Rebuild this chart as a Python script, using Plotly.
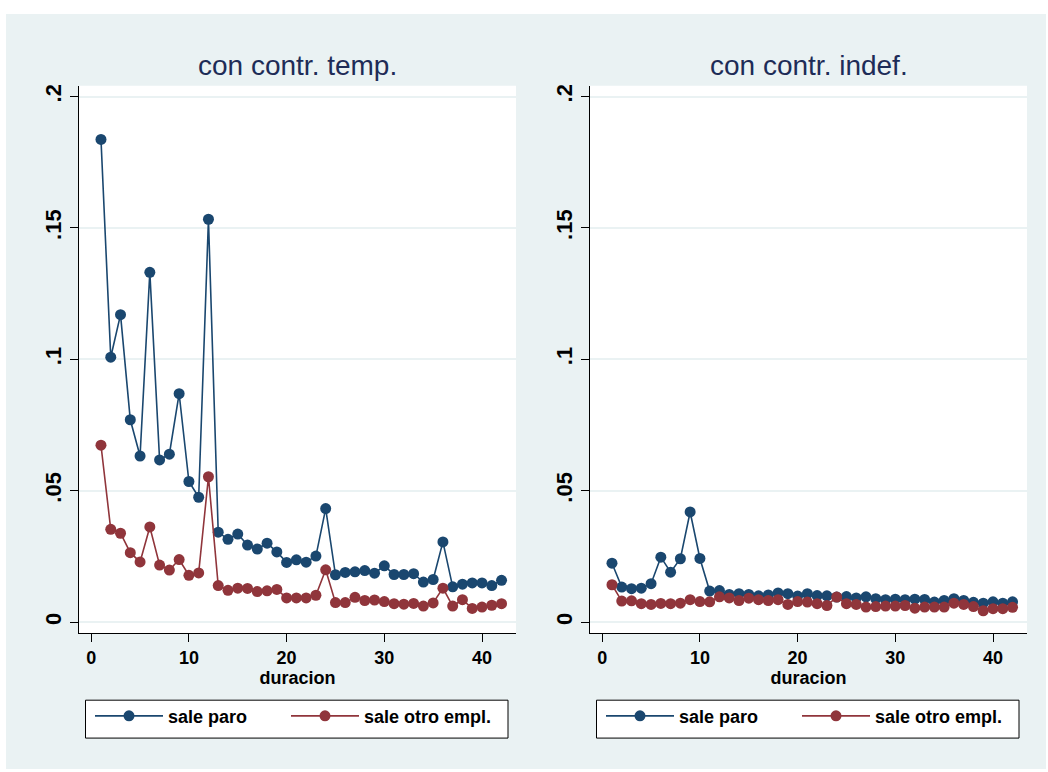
import plotly.graph_objects as go

duracion = list(range(1, 43))

temp_sale_paro = [0.1837, 0.1008, 0.1170, 0.0770, 0.0632, 0.1331, 0.0617, 0.0639, 0.0869, 0.0535,
                  0.0475, 0.1533, 0.0342, 0.0315, 0.0335, 0.0293, 0.0278, 0.0300, 0.0267, 0.0227,
                  0.0237, 0.0228, 0.0251, 0.0432, 0.0180, 0.0189, 0.0191, 0.0196, 0.0186, 0.0214,
                  0.0181, 0.0181, 0.0184, 0.0152, 0.0162, 0.0305, 0.0134, 0.0144, 0.0149, 0.0149,
                  0.0139, 0.0159]
temp_sale_otro = [0.0673, 0.0353, 0.0338, 0.0264, 0.0229, 0.0362, 0.0217, 0.0198, 0.0238, 0.0178,
                  0.0187, 0.0553, 0.0139, 0.0121, 0.0129, 0.0128, 0.0116, 0.0119, 0.0124, 0.0092,
                  0.0092, 0.0092, 0.0102, 0.0199, 0.0074, 0.0074, 0.0094, 0.0082, 0.0084, 0.0078,
                  0.0070, 0.0068, 0.0071, 0.0061, 0.0073, 0.0129, 0.0061, 0.0085, 0.0052, 0.0057,
                  0.0064, 0.0070]
indef_sale_paro = [0.0224, 0.0133, 0.0127, 0.0129, 0.0146, 0.0247, 0.0190, 0.0241, 0.0419, 0.0242,
                   0.0118, 0.0120, 0.0105, 0.0108, 0.0105, 0.0100, 0.0103, 0.0111, 0.0108, 0.0099,
                   0.0108, 0.0101, 0.0100, 0.0095, 0.0097, 0.0092, 0.0096, 0.0089, 0.0085, 0.0087,
                   0.0085, 0.0087, 0.0086, 0.0076, 0.0082, 0.0089, 0.0082, 0.0075, 0.0072, 0.0077,
                   0.0072, 0.0077]
indef_sale_otro = [0.0142, 0.0080, 0.0081, 0.0070, 0.0067, 0.0071, 0.0070, 0.0072, 0.0085, 0.0078,
                   0.0077, 0.0096, 0.0092, 0.0082, 0.0091, 0.0085, 0.0082, 0.0085, 0.0067, 0.0078,
                   0.0076, 0.0070, 0.0063, 0.0095, 0.0070, 0.0067, 0.0057, 0.0059, 0.0061, 0.0061,
                   0.0063, 0.0053, 0.0057, 0.0057, 0.0057, 0.0072, 0.0067, 0.0059, 0.0043, 0.0051,
                   0.0051, 0.0056]

panel_titles = ["con contr. temp.", "con contr. indef."]
series_names = ["<b>sale paro</b>", "<b>sale otro empl.</b>"]
x_title = "<b>duracion</b>"
y_tickvals = [0, 0.05, 0.1, 0.15, 0.2]
y_ticktext = ["<b>0</b>", "<b>.05</b>", "<b>.1</b>", "<b>.15</b>", "<b>.2</b>"]
x_tickvals = [0, 10, 20, 30, 40]
x_ticktext = ["<b>0</b>", "<b>10</b>", "<b>20</b>", "<b>30</b>", "<b>40</b>"]

W, H = 1048, 772
BLUE = "#1A476F"
RED = "#90353B"
BG = "#EAF2F3"
TITLE_C = "#1E2C57"
FONT = "Liberation Sans, Arial, sans-serif"

def px_x(p):
    return p / W

def px_y(p):
    return 1 - p / H

fig = go.Figure()

# (paro, otro, xaxis, yaxis, legend ids, plot left px, plot right px)
panels = [
    (temp_sale_paro, temp_sale_otro, "x", "y", ("legend", "legend2"), 79, 516),
    (indef_sale_paro, indef_sale_otro, "x2", "y2", ("legend3", "legend4"), 590, 1027),
]

for (paro, otro, xa, ya, lgs, _, _) in panels:
    for vals, name, col, lg in [(paro, series_names[0], BLUE, lgs[0]),
                                (otro, series_names[1], RED, lgs[1])]:
        fig.add_trace(go.Scatter(
            x=duracion, y=vals, mode="lines+markers", name=name,
            line=dict(color=col, width=1.6),
            marker=dict(color=col, size=11),
            xaxis=xa, yaxis=ya, legend=lg,
        ))

ax_common_x = dict(
    range=[-1.25, 43.48], tickvals=x_tickvals, ticktext=x_ticktext, ticks="outside", ticklen=8,
    tickwidth=1, tickcolor="black", showline=True, linecolor="black", linewidth=1, showgrid=False,
    zeroline=False, tickfont=dict(size=18, color="black", family=FONT),
    title=dict(text=x_title, font=dict(size=18, color="black", family=FONT), standoff=4),
)
ax_common_y = dict(
    range=[-0.0043, 0.2041], tickvals=y_tickvals, ticktext=y_ticktext, ticks="outside",
    ticklen=8, tickwidth=1, tickcolor="black", showline=True, linecolor="black", linewidth=1,
    showgrid=True, gridcolor=BG, gridwidth=1.5, zeroline=False, tickangle=-90,
    tickfont=dict(size=22, color="black", family=FONT),
)

ydom = [px_y(633), px_y(84)]
fig.update_layout(
    xaxis=dict(domain=[px_x(79), px_x(516)], anchor="y", **ax_common_x),
    yaxis=dict(domain=ydom, anchor="x", **ax_common_y),
    xaxis2=dict(domain=[px_x(590), px_x(1027)], anchor="y2", **ax_common_x),
    yaxis2=dict(domain=ydom, anchor="x2", **ax_common_y),
)

shapes = [dict(type="rect", xref="paper", yref="paper", x0=px_x(6), x1=px_x(1046),
               y0=px_y(769), y1=px_y(12), fillcolor=BG, line=dict(width=0), layer="below")]
annotations = []
legends = {}
for i, (_, _, _, _, lgs, xl, xr) in enumerate(panels):
    # white plot region
    shapes.append(dict(type="rect", xref="paper", yref="paper",
                       x0=px_x(xl), x1=px_x(xr), y0=px_y(633), y1=px_y(84),
                       fillcolor="white", line=dict(width=0), layer="below"))
    # legend frame
    shapes.append(dict(type="rect", xref="paper", yref="paper",
                       x0=px_x(xl + 6.5), x1=px_x(xr - 8), y0=px_y(738), y1=px_y(700),
                       fillcolor="white", line=dict(color="black", width=1), layer="below"))
    annotations.append(dict(text=panel_titles[i], xref="paper", yref="paper",
                            x=px_x((xl + xr) / 2), y=px_y(64), xanchor="center", yanchor="middle",
                            showarrow=False, font=dict(size=28, color=TITLE_C, family=FONT)))
    for j, lg in enumerate(lgs):
        legends[lg] = dict(x=px_x(xl + 11 + 196 * j), y=px_y(716), orientation="h",
                           xanchor="left", yanchor="middle", bgcolor="rgba(0,0,0,0)",
                           borderwidth=0, font=dict(size=18, color="black", family=FONT),
                           itemwidth=68)

fig.update_layout(
    **legends,
    shapes=shapes, annotations=annotations,
    width=W, height=H, autosize=False, margin=dict(l=0, r=0, t=0, b=0),
    paper_bgcolor="white", plot_bgcolor="white", showlegend=True,
    font=dict(family=FONT),
)

fig.write_html("out.html", config={"displayModeBar": False},
               post_script="document.body.style.margin='0px';document.body.style.overflow='hidden';")
